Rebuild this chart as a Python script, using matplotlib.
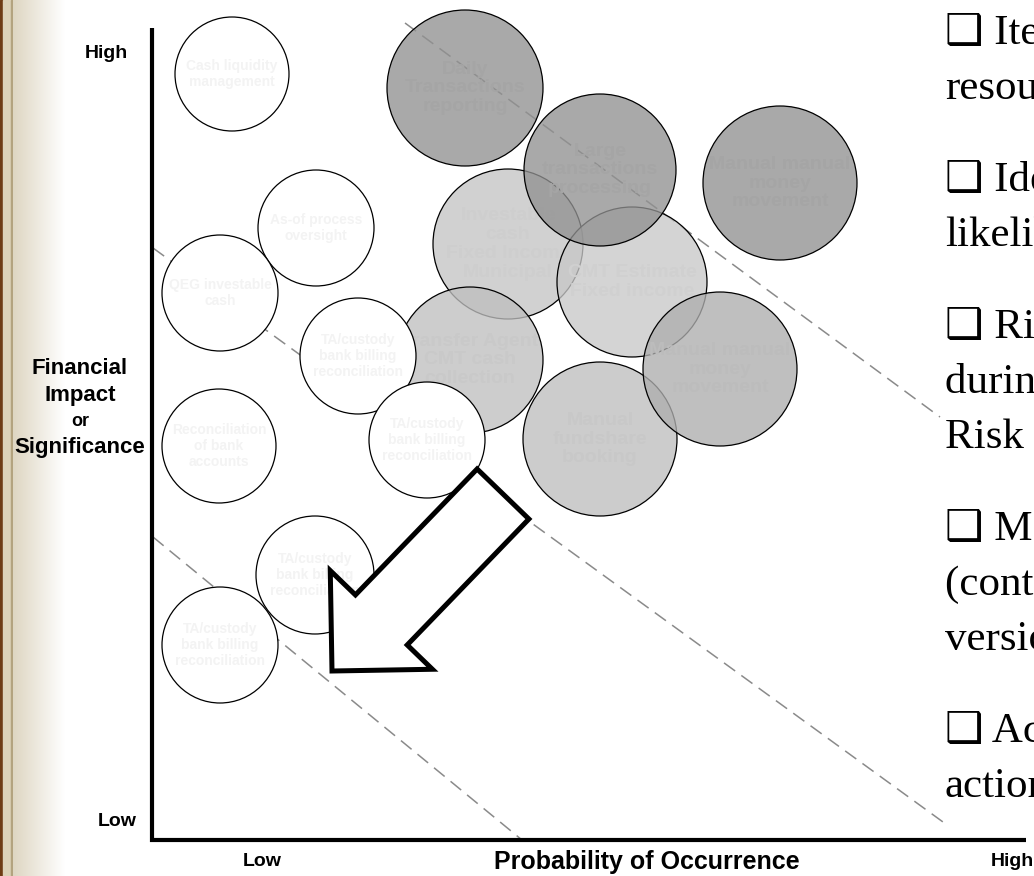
import numpy as np
import matplotlib.pyplot as plt
from matplotlib.patches import Circle, FancyArrow, Rectangle

# risk map items, positions (pixel units, y down)
gray_labels = ['Investable\ncash\nFixed Income\nMunicipal', 'CMT Estimate\nFixed income',
               'Transfer Agent\nCMT cash\ncollection', 'Manual\nfundshare\nbooking',
               'Manual manual\nmoney\nmovement', 'Daily\nTransactions\nreporting',
               'Large\ntransactions\nprocessing', 'Manual manual\nmoney\nmovement']
gray_x = [508, 632, 470, 600, 720, 465, 600, 780]
gray_y = [244, 282, 360, 439, 369, 88, 170, 183]
gray_r = [75, 75, 73, 77, 77, 78, 76, 77]
gray_shade = [210, 212, 205, 204, 192, 169, 169, 169]

white_labels = ['Cash liquidity\nmanagement', 'As-of process\noversight', 'QEG investable\ncash',
                'TA/custody\nbank billing\nreconciliation', 'Reconciliation\nof bank\naccounts',
                'TA/custody\nbank billing\nreconciliation', 'TA/custody\nbank billing\nreconciliation',
                'TA/custody\nbank billing\nreconciliation']
white_x = [232, 316, 220, 358, 219, 427, 315, 220]
white_y = [74, 228, 293, 356, 446, 440, 575, 645]
white_r = [57, 58, 58, 58, 57, 58, 59, 58]

# dashed risk bands (start / end points)
band_x0 = [405, 153, 153]
band_y0 = [23, 248, 537]
band_x1 = [940, 943, 522]
band_y1 = [417, 822, 840]

bullets = [['\u2751 Items requiring', 'resources'],
           ['\u2751 Identify the', 'likelihood'],
           ['\u2751 Risks identified', 'during the', 'Risk assessment'],
           ['\u2751 Monitor', '(controls in', 'version)'],
           ['\u2751 Action plans', 'actions']]

W, H = 1034, 876
fig = plt.figure(figsize=(W / 100, H / 100), dpi=100)
ax = fig.add_axes([0, 0, 1, 1])
ax.set_xlim(0, W)
ax.set_ylim(H, 0)
ax.axis('off')

# slide border on the left
ax.add_patch(Rectangle((0, 0), 3, H, color='#6e3c14', zorder=0))
ax.add_patch(Rectangle((3, 0), 8, H, color='#dcd2b8', zorder=0))
ax.add_patch(Rectangle((10.5, 0), 2, H, color='#b3a37f', zorder=0))
t = np.linspace(0, 1, 120)[None, :, None]
start = np.array([222, 214, 194]) / 255
grad = start * (1 - t) + 1.0 * t
ax.imshow(grad, extent=[12.5, 64, H, 0], aspect='auto', zorder=0)

sans = 'Liberation Sans'

for x0, y0, x1, y1 in zip(band_x0, band_y0, band_x1, band_y1):
    ax.plot([x0, x1], [y0, y1], color='#8a8a8a', lw=1.1, dashes=(9, 5), zorder=1)

alpha = 0.78
for i, (lab, x, y, r, s) in enumerate(zip(gray_labels, gray_x, gray_y, gray_r, gray_shade)):
    z = 2 + i * 0.02
    base = (s - (1 - alpha) * 255) / alpha / 255
    ax.add_patch(Circle((x, y), r, facecolor=(base, base, base, alpha),
                        edgecolor='black', lw=0.9, zorder=z))
    c = (s - 4) / 255
    ax.text(x, y, lab, ha='center', va='center', fontsize=14, fontweight='bold',
            family=sans, color=(c, c, c), linespacing=1.15, zorder=z + 0.01)

for lab, x, y, r in zip(white_labels, white_x, white_y, white_r):
    ax.add_patch(Circle((x, y), r, facecolor='white', edgecolor='black', lw=0.9, zorder=3))
    ax.text(x, y, lab, ha='center', va='center', fontsize=10, fontweight='bold',
            family=sans, color='#f3f3f3', linespacing=1.2, zorder=3.5)

# big arrow towards low risk corner
ax.add_patch(FancyArrow(503, 494, -171, 177, width=72, head_width=142, head_length=71,
                        length_includes_head=True, facecolor='white', edgecolor='black',
                        lw=3.6, joinstyle='miter', zorder=4))

# axes
ax.plot([152, 152, 1026], [28, 840, 840], color='black', lw=3, solid_joinstyle='miter',
        solid_capstyle='butt', zorder=5)

ax.text(106, 54, 'High', ha='center', va='center', fontsize=14, fontweight='bold', family=sans)
ax.text(117, 822, 'Low', ha='center', va='center', fontsize=14, fontweight='bold', family=sans)
ax.text(262, 862, 'Low', ha='center', va='center', fontsize=14, fontweight='bold', family=sans)
ax.text(1012, 862, 'High', ha='center', va='center', fontsize=14, fontweight='bold', family=sans)
ax.text(647, 862, 'Probability of Occurrence', ha='center', va='center', fontsize=18,
        fontweight='bold', family=sans)
for txt, yy, fs in [('Financial', 368, 16), ('Impact', 395, 16), ('or', 422, 13),
                    ('Significance', 447, 16)]:
    ax.text(80, yy, txt, ha='center', va='center', fontsize=fs, fontweight='bold', family=sans)

# bullet text on the right, cut by the slide edge
yb = 44
for group in bullets:
    for line in group:
        ax.text(945, yb, line, ha='left', va='baseline', fontsize=31,
                family=['Liberation Serif', 'DejaVu Sans'])
        yb += 55
    yb += 37

fig.savefig('out.png', dpi=100)
